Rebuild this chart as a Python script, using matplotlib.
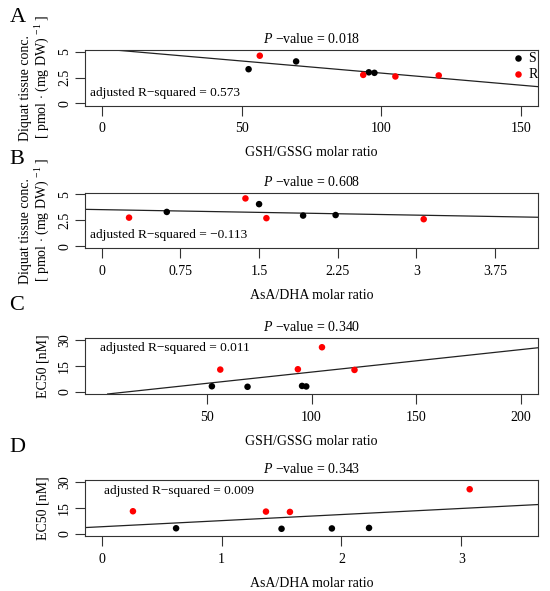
import numpy as np
import matplotlib.pyplot as plt

plt.rcParams['font.family'] = ['Liberation Serif', 'DejaVu Serif']
plt.rcParams['mathtext.fontset'] = 'custom'
plt.rcParams['mathtext.rm'] = 'Liberation Serif'
plt.rcParams['mathtext.it'] = 'Liberation Serif:italic'

# 8 samples: first 4 are S (black), last 4 are R (red)
gsh_gssg = [52.5, 69.5, 95.5, 97.5, 56.5, 93.5, 105.0, 120.5]
asa_dha = [0.62, 1.50, 2.23, 1.92, 1.37, 0.26, 3.07, 1.57]
diquat = [3.3, 4.05, 3.0, 2.95, 4.6, 2.75, 2.6, 2.7]
ec50 = [3.3, 3.0, 3.5, 3.2, 13.0, 13.2, 26.0, 12.8]
groups = ['S', 'S', 'S', 'S', 'R', 'R', 'R', 'R']
group_colors = {'S': 'black', 'R': '#ff0000'}

p_values = ['0.018', '0.608', '0.340', '0.343']
adj_r2 = ['0.573', '\u22120.113', '0.011', '0.009']

diquat_label1 = 'Diquat tissue conc.'
diquat_label2 = r'[ pmol $\cdot$ (mg DW) $^{\mathregular{-1}}$ ]'
ec50_label = 'EC50 [nM]'

panels = [
    # letter, x, y, xlim, ylim, xticks, xticklabels, yticks, yticklabels, xlabel
    ('A', gsh_gssg, diquat, (-6, 156), (-0.2, 5.2), [0, 50, 100, 150], ['0', '50', '100', '150'],
     [0, 2.5, 5], ['0', '2.5', '5'], 'GSH/GSSG molar ratio'),
    ('B', asa_dha, diquat, (-0.16, 4.16), (-0.2, 5.15), [0, 0.75, 1.5, 2.25, 3, 3.75],
     ['0', '0.75', '1.5', '2.25', '3', '3.75'], [0, 2.5, 5], ['0', '2.5', '5'], 'AsA/DHA molar ratio'),
    ('C', gsh_gssg, ec50, (-8, 208), (-1.2, 31.2), [50, 100, 150, 200], ['50', '100', '150', '200'],
     [0, 15, 30], ['0', '15', '30'], 'GSH/GSSG molar ratio'),
    ('D', asa_dha, ec50, (-0.14, 3.64), (-1.2, 31.2), [0, 1, 2, 3], ['0', '1', '2', '3'],
     [0, 15, 30], ['0', '15', '30'], 'AsA/DHA molar ratio'),
]

# axes boxes in pixels (top, bottom)
W, H = 550, 591
boxes = [(49.5, 105.5), (192.7, 248.3), (338.3, 394.0), (480.3, 536.0)]
r2_pos = [(90.5, 93), (90.5, 235), (100.5, 348.3), (104, 491)]
letter_pos = [(18, 17), (17, 160), (17, 305), (17, 448)]

fig = plt.figure(figsize=(5.5, 5.91), dpi=100)
edge = '#333333'

for i, (letter, xs, ys, xlim, ylim, xt, xtl, yt, ytl, xlabel) in enumerate(panels):
    top, bot = boxes[i]
    ax = fig.add_axes([85 / W, 1 - bot / H, (538 - 85) / W, (bot - top) / H])
    cols = [group_colors[g] for g in groups]
    ax.scatter(xs, ys, c=cols, s=22, zorder=3, linewidths=0)
    m, b = np.polyfit(xs, ys, 1)
    ax.axline((0, b), slope=m, color='#222222', lw=0.9)
    ax.set_xlim(*xlim)
    ax.set_ylim(*ylim)
    ax.set_xticks(xt)
    ax.set_xticklabels(xtl)
    ax.set_yticks(yt)
    ax.set_yticklabels(ytl, rotation=90, va='center')
    ax.tick_params(direction='out', length=7, width=0.8, color=edge, labelsize=10, pad=3)
    ax.tick_params(axis='x', pad=5)
    for s in ax.spines.values():
        s.set_color(edge)
        s.set_linewidth(0.8)
    ax.set_xlabel(xlabel, fontsize=10, labelpad=8)
    ax.set_title('$P$ \u2212value = ' + p_values[i], fontsize=10, pad=5)

    rx, ry = r2_pos[i]
    fig.text(rx / W, 1 - ry / H, 'adjusted R\u2212squared = ' + adj_r2[i], fontsize=9.6,
             ha='left', va='center')
    lx, ly = letter_pos[i]
    fig.text(lx / W, 1 - ly / H, letter, fontsize=16, ha='center', va='center')

    mid = (top + bot) / 2
    if letter in 'AB':
        fig.text(26 / W, 1 - (mid + 11) / H, diquat_label1, fontsize=10, rotation=90,
                 ha='center', va='center')
        fig.text(43 / W, 1 - (mid - 1) / H, diquat_label2, fontsize=10, rotation=90,
                 ha='center', va='center')
    else:
        fig.text(43 / W, 1 - mid / H, ec50_label, fontsize=10, rotation=90,
                 ha='center', va='center')

    if letter == 'A':
        ax.scatter([0.955], [0.84], c='black', s=22, linewidths=0, transform=ax.transAxes)
        ax.scatter([0.955], [0.56], c='#ff0000', s=22, linewidths=0, transform=ax.transAxes)
        ax.text(0.978, 0.84, 'S', fontsize=10, transform=ax.transAxes, ha='left', va='center')
        ax.text(0.978, 0.56, 'R', fontsize=10, transform=ax.transAxes, ha='left', va='center')

fig.savefig('out.png', dpi=100)
